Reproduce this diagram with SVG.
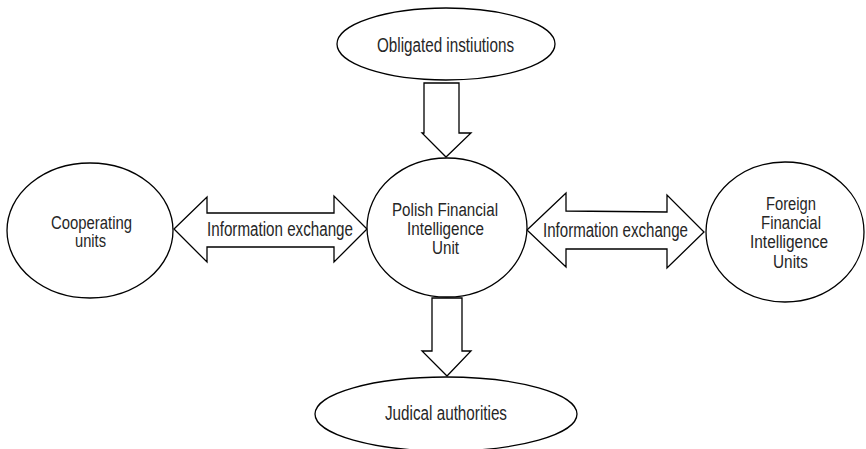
<svg xmlns="http://www.w3.org/2000/svg" width="866" height="449" viewBox="0 0 866 449">
<style>
.n{fill:#fff;stroke:#000;stroke-width:1.3}
.c{fill:#fff;stroke:#000;stroke-width:1.3;stroke-linejoin:miter}
text{font-family:"Liberation Sans Narrow","Liberation Sans",Arial,sans-serif;font-size:19.5px;fill:#262626;text-anchor:middle}
.m{font-size:18px}
</style>
<rect width="866" height="449" fill="#fff"/>
<g id="connectors">
<path class="c" d="M424,83 L459,83 L459,133 L471,133 L446,157 L422,133 L424,133 Z"/>
<path class="c" d="M432,298 L462,298 L462,351 L471,351 L447,376 L422,351 L432,351 Z"/>
<path class="c" d="M174,229 L207,197 L207,213 L334,213 L334,196 L367,229 L334,262 L334,247 L207,247 L207,262 Z"/>
<path class="c" d="M527,230 L566,193 L566,211 L667,212 L667,195 L704,232 L667,268 L667,249 L566,249 L566,267 Z"/>
<text x="280" y="236" textLength="146" lengthAdjust="spacingAndGlyphs">Information exchange</text>
<text x="615.5" y="237" textLength="145" lengthAdjust="spacingAndGlyphs">Information exchange</text>
</g>
<g id="obligated">
<ellipse class="n" cx="446" cy="44" rx="109" ry="36"/>
<text x="445.5" y="52" textLength="137" lengthAdjust="spacingAndGlyphs">Obligated instiutions</text>
</g>
<g id="polish-fiu">
<ellipse class="n" cx="447" cy="227.5" rx="80" ry="69.5"/>
<text class="m" x="445" y="215.5" textLength="106" lengthAdjust="spacingAndGlyphs">Polish Financial</text>
<text class="m" x="445.5" y="235" textLength="77" lengthAdjust="spacingAndGlyphs">Intelligence</text>
<text class="m" x="445.5" y="254" textLength="27" lengthAdjust="spacingAndGlyphs">Unit</text>
</g>
<g id="cooperating">
<ellipse class="n" cx="90" cy="230.5" rx="83" ry="67.5"/>
<text class="m" x="91.5" y="228.5" textLength="81" lengthAdjust="spacingAndGlyphs">Cooperating</text>
<text class="m" x="90.5" y="247" textLength="31" lengthAdjust="spacingAndGlyphs">units</text>
</g>
<g id="foreign-fiu">
<ellipse class="n" cx="785" cy="232" rx="79" ry="70"/>
<text class="m" x="791" y="210" textLength="50" lengthAdjust="spacingAndGlyphs">Foreign</text>
<text class="m" x="791" y="228.5" textLength="60" lengthAdjust="spacingAndGlyphs">Financial</text>
<text class="m" x="789" y="248" textLength="78" lengthAdjust="spacingAndGlyphs">Intelligence</text>
<text class="m" x="790.5" y="267.5" textLength="35" lengthAdjust="spacingAndGlyphs">Units</text>
</g>
<g id="judical">
<ellipse class="n" cx="446" cy="414" rx="131" ry="37"/>
<text x="446" y="420" textLength="122" lengthAdjust="spacingAndGlyphs">Judical authorities</text>
</g>
</svg>
